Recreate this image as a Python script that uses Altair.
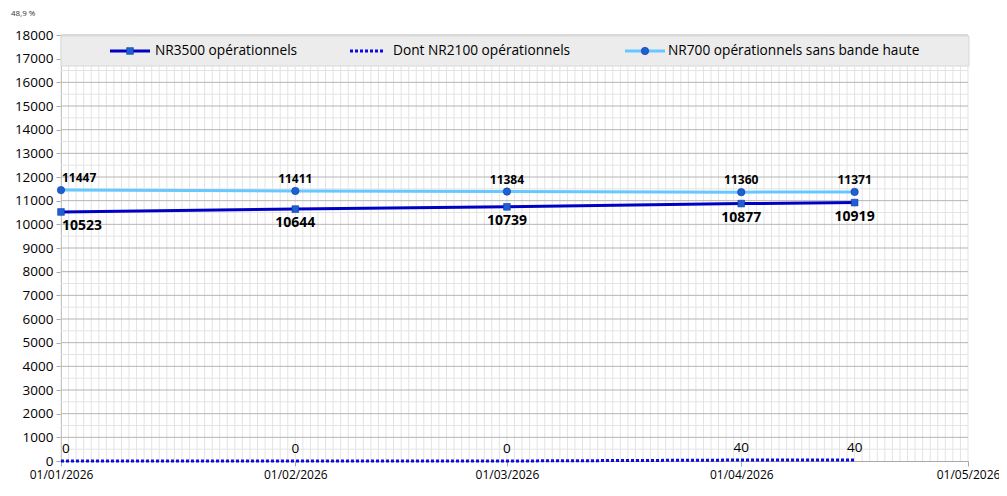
import altair as alt
import pandas as pd

# ---- data ----
dates = ["2026-01-01", "2026-02-01", "2026-03-01", "2026-04-01", "2026-04-16"]
nr3500 = [10523, 10644, 10739, 10877, 10919]
nr2100 = [0, 0, 0, 40, 40]
nr700 = [11447, 11411, 11384, 11360, 11371]
series_names = ["NR3500 opérationnels", "Dont NR2100 opérationnels",
                "NR700 opérationnels sans bande haute"]
month_ticks = ["2026-01-01", "2026-02-01", "2026-03-01", "2026-04-01", "2026-05-01"]
y_ticks = list(range(0, 18001, 1000))
y_minor = list(range(500, 18000, 1000))
corner_note = "48,9 %"

FONT = "Open Sans"
W, H = 907, 426

df3500 = pd.DataFrame({"date": dates, "value": nr3500})
df2100 = pd.DataFrame({"date": dates, "value": nr2100})
df700 = pd.DataFrame({"date": dates, "value": nr700})
day_grid = pd.DataFrame({"date": pd.date_range(month_ticks[0], month_ticks[-1], freq="D").strftime("%Y-%m-%d")})
major_grid = pd.DataFrame({"value": y_ticks[1:]})
minor_grid = pd.DataFrame({"value": y_minor})


def utc(s):
    y, m, d = (int(p) for p in s.split("-"))
    return alt.DateTime(year=y, month=m, date=d, utc=True)


x_scale = alt.Scale(type="utc", domain=[utc(month_ticks[0]), utc(month_ticks[-1])], nice=False)
y_scale = alt.Scale(domain=[0, 18000], nice=False)

X = alt.X("date:T", scale=x_scale, title=None,
          axis=alt.Axis(values=[utc(m) for m in month_ticks],
                        labelExpr="utcFormat(datum.value, '%d/%m/%Y')",
                        grid=False, tickSize=5, tickColor="#a8a8a8", domainColor="#a8a8a8",
                        labelFontSize=12, labelFont=FONT, labelColor="#000000",
                        labelPadding=3, labelOverlap=False, labelFlush=False))
Y = alt.Y("value:Q", scale=y_scale, title=None,
          axis=alt.Axis(values=y_ticks, grid=False, tickSize=5, tickColor="#a8a8a8",
                        domainColor="#a8a8a8", labelFontSize=13.5, labelFont=FONT,
                        labelColor="#000000", labelPadding=3, format="d"))

vgrid = alt.Chart(day_grid).mark_rule(color="#e3e3e3", strokeWidth=1).encode(x=X)
hminor = alt.Chart(minor_grid).mark_rule(color="#e3e3e3", strokeWidth=1).encode(y=Y)
hmajor = alt.Chart(major_grid).mark_rule(color="#b5b5b5", strokeWidth=1).encode(y=Y)

one = pd.DataFrame({"k": [0]})
legend_bg = alt.Chart(one).mark_rect(fill="#ececec", stroke="#d8d8d8", strokeWidth=1).encode(
    x=alt.value(0), x2=alt.value(W + 1), y=alt.value(1), y2=alt.value(31))

C3500 = "#0000c4"
C2100 = "#0a0ae6"
C700 = "#66c8ff"
MARK = "#1f5fd6"

line700 = alt.Chart(df700).mark_line(color=C700, strokeWidth=3).encode(x=X, y=Y)
line3500 = alt.Chart(df3500).mark_line(color=C3500, strokeWidth=3).encode(x=X, y=Y)
line2100 = alt.Chart(df2100).mark_line(color=C2100, strokeWidth=3, strokeDash=[3, 2]).encode(x=X, y=Y)

pts700 = alt.Chart(df700).mark_point(shape="circle", filled=True, size=55, fill=MARK,
                                     stroke="#0d3a9a", strokeWidth=0.6, opacity=1).encode(x=X, y=Y)
pts3500 = alt.Chart(df3500).mark_point(shape="square", filled=True, size=45, fill=MARK,
                                       stroke="#0d3a9a", strokeWidth=0.6, opacity=1).encode(x=X, y=Y)


def labels(df, dy, size, weight):
    d = df.assign(lab=df["value"].astype(int).astype(str))
    first = alt.Chart(d.iloc[:1]).mark_text(
        align="left", baseline="middle", dx=1, dy=dy, fontSize=size, fontWeight=weight,
        font=FONT, color="#000000").encode(x=X, y=Y, text="lab:N")
    rest = alt.Chart(d.iloc[1:]).mark_text(
        align="center", baseline="middle", dy=dy, fontSize=size, fontWeight=weight,
        font=FONT, color="#000000").encode(x=X, y=Y, text="lab:N")
    return first + rest


lab700 = labels(df700, -12, 12, "bold")
lab3500 = labels(df3500, 14, 14, "bold")
lab2100 = labels(df2100, -12, 13.5, "normal")

# ---- legend drawn inside the top band ----
ly = 16
LFS = 13.7
leg = [
    alt.Chart(one).mark_rule(color=C3500, strokeWidth=3).encode(x=alt.value(49), x2=alt.value(89), y=alt.value(ly)),
    alt.Chart(one).mark_point(shape="square", filled=True, size=45, fill=MARK, stroke="#0d3a9a",
                              strokeWidth=0.6, opacity=1).encode(x=alt.value(69), y=alt.value(ly)),
    alt.Chart(one).mark_text(align="left", baseline="middle", fontSize=LFS, font=FONT, color="#000000").encode(
        x=alt.value(94), y=alt.value(ly), text=alt.value(series_names[0])),
    alt.Chart(one).mark_rule(color=C2100, strokeWidth=3, strokeDash=[3, 2]).encode(x=alt.value(289), x2=alt.value(323), y=alt.value(ly)),
    alt.Chart(one).mark_text(align="left", baseline="middle", fontSize=LFS, font=FONT, color="#000000").encode(
        x=alt.value(332), y=alt.value(ly), text=alt.value(series_names[1])),
    alt.Chart(one).mark_rule(color=C700, strokeWidth=3).encode(x=alt.value(564), x2=alt.value(604), y=alt.value(ly)),
    alt.Chart(one).mark_point(shape="circle", filled=True, size=55, fill=MARK, stroke="#0d3a9a",
                              strokeWidth=0.6, opacity=1).encode(x=alt.value(584), y=alt.value(ly)),
    alt.Chart(one).mark_text(align="left", baseline="middle", fontSize=LFS, font=FONT, color="#000000").encode(
        x=alt.value(607), y=alt.value(ly), text=alt.value(series_names[2])),
]

note = alt.Chart(one).mark_text(align="left", baseline="top", fontSize=8, font=FONT, color="#333333").encode(
    x=alt.value(-50), y=alt.value(-25), text=alt.value(corner_note))

chart = alt.layer(
    vgrid, hminor, hmajor, legend_bg,
    line700, line3500, line2100, pts700, pts3500,
    lab700, lab3500, lab2100, *leg, note
).properties(
    width=W, height=H,
    autosize=alt.AutoSizeParams(type="none"),
    padding={"left": 53, "top": 27, "right": 31, "bottom": 27},
    background="#ffffff",
).configure_view(stroke=None)

chart.save("out.html", embed_options={"renderer": "svg", "actions": False})
